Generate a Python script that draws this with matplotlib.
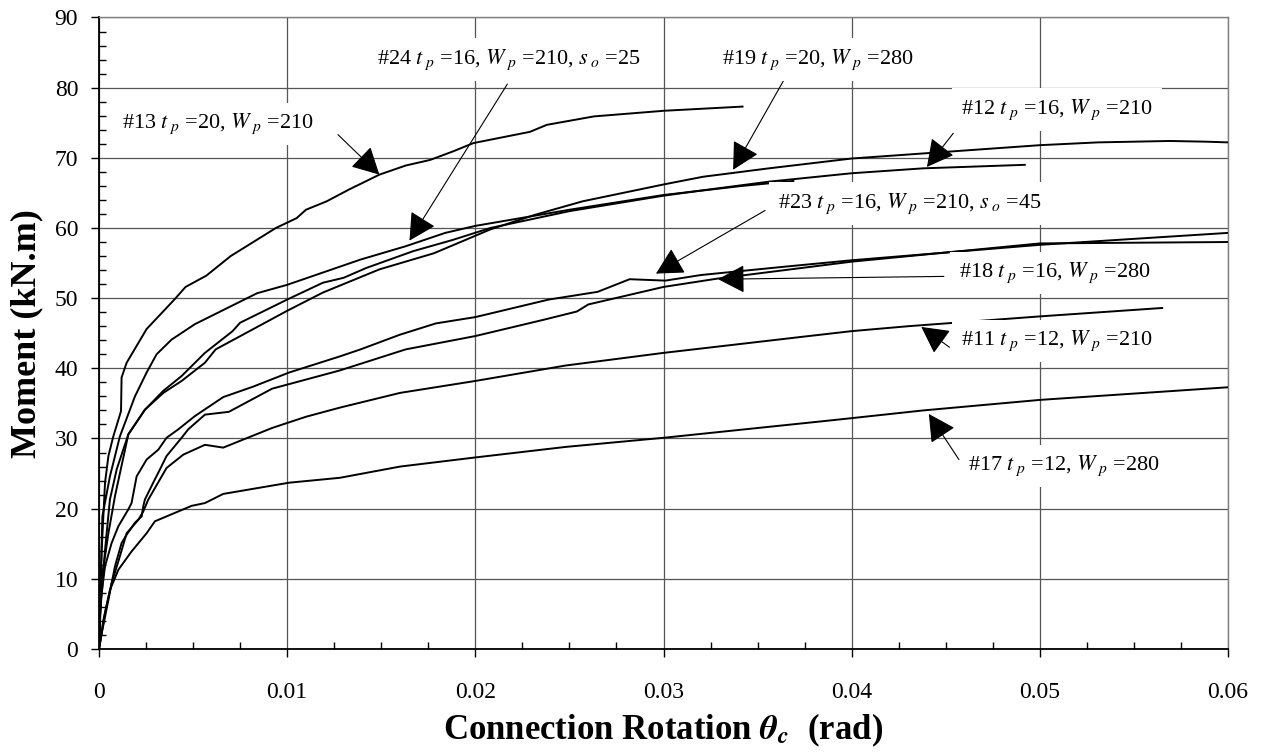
import numpy as np
import matplotlib.pyplot as plt
from matplotlib.ticker import MultipleLocator, FuncFormatter

plt.rcParams['font.family'] = ['Liberation Serif', 'DejaVu Serif']
plt.rcParams['mathtext.fontset'] = 'stix'

th13 = [0, 0.00005, 0.00014, 0.00032, 0.0005, 0.00076, 0.00117, 0.0012, 0.00147, 0.00253, 0.00404,
        0.0046, 0.0057, 0.007, 0.0094, 0.0105, 0.011, 0.0121, 0.0133, 0.0149, 0.0163, 0.0176,
        0.0188, 0.0199, 0.0229, 0.0238, 0.0263, 0.030, 0.0342]
m13 = [0, 5, 14, 23.7, 27.5, 30.3, 33.9, 38.7, 40.8, 45.6, 49.9,
       51.6, 53.2, 56.0, 60.0, 61.4, 62.6, 63.8, 65.5, 67.6, 68.9, 69.7,
       70.9, 72.1, 73.7, 74.7, 75.9, 76.7, 77.3]

th24 = [0, 0.00018, 0.00058, 0.00111, 0.00191, 0.00253, 0.00306, 0.00386, 0.0051, 0.0084, 0.01,
        0.0139, 0.0163, 0.0184, 0.02, 0.025, 0.03, 0.0342, 0.0369]
m24 = [0, 18.9, 24.6, 30.3, 36.0, 39.4, 42.0, 44.1, 46.3, 50.7, 51.9,
       55.5, 57.4, 59.3, 60.3, 62.6, 64.7, 66.0, 66.7]

th12 = [0, 0.00005, 0.00032, 0.00058, 0.00094, 0.00156, 0.00244, 0.00342, 0.00439, 0.00563, 0.0071,
        0.0075, 0.01, 0.0119, 0.013, 0.0142, 0.0167, 0.0188, 0.0208, 0.025, 0.03, 0.0319,
        0.0356, 0.04, 0.0438, 0.0492]
m12 = [0, 4.6, 14.1, 21.3, 25.6, 30.6, 34.1, 36.8, 38.9, 42.2, 45.3,
       46.5, 49.8, 52.2, 52.9, 54.3, 56.7, 58.3, 60.0, 62.4, 64.6, 65.3,
       66.6, 67.8, 68.5, 69.0]

th19 = [0, 0.00011, 0.0005, 0.00085, 0.00156, 0.00244, 0.00342, 0.00439, 0.00563, 0.0062, 0.01,
        0.0119, 0.0149, 0.0178, 0.0208, 0.0232, 0.0257, 0.03, 0.0321, 0.0356, 0.04, 0.05,
        0.0531, 0.0569, 0.0588, 0.06]
m19 = [0, 9.4, 16.5, 21.8, 30.6, 34.1, 36.5, 38.2, 40.8, 42.7, 48.2,
       50.8, 54.1, 56.4, 59.8, 61.9, 63.8, 66.2, 67.3, 68.5, 69.9, 71.8,
       72.2, 72.4, 72.3, 72.2]

th23 = [0, 0.0001, 0.00032, 0.00067, 0.00103, 0.00156, 0.00173, 0.002, 0.00253, 0.00315, 0.00359,
        0.00421, 0.0051, 0.0066, 0.0082, 0.0101, 0.0128, 0.0139, 0.016, 0.0179, 0.02, 0.0239,
        0.0265, 0.0282, 0.0301, 0.032, 0.0365, 0.04, 0.05, 0.06]
m23 = [0, 7.0, 11.8, 15.1, 17.5, 19.9, 20.8, 24.6, 27.0, 28.4, 30.1,
       31.3, 33.2, 35.9, 37.4, 39.4, 41.7, 42.7, 44.8, 46.4, 47.3, 49.8,
       50.9, 52.7, 52.5, 53.3, 54.5, 55.4, 57.6, 59.3]

th18 = [0, 0.00014, 0.0005, 0.00085, 0.0012, 0.00147, 0.00191, 0.00227, 0.00235, 0.00244, 0.00288,
        0.00324, 0.00359, 0.00439, 0.00474, 0.00563, 0.0069, 0.0092, 0.011, 0.0128, 0.0163,
        0.02, 0.0236, 0.0254, 0.026, 0.03, 0.0329, 0.04, 0.05, 0.06]
m18 = [0, 2.2, 7.0, 11.8, 15.1, 16.3, 18.0, 18.9, 20.3, 21.3, 23.7,
       25.6, 27.5, 30.1, 31.3, 33.4, 33.8, 37.1, 38.4, 39.7, 42.7,
       44.6, 46.9, 48.1, 49.1, 51.6, 52.8, 55.2, 57.8, 58.0]

th11 = [0, 0.00032, 0.00067, 0.00103, 0.00147, 0.00209, 0.00235, 0.00262, 0.00359, 0.00448, 0.00563,
        0.0066, 0.0092, 0.011, 0.0128, 0.016, 0.02, 0.0248, 0.03, 0.0374, 0.04, 0.043, 0.05, 0.0565]
m11 = [0, 5.1, 9.4, 12.5, 16.5, 18.4, 19.6, 21.3, 25.8, 27.7, 29.1,
       28.7, 31.5, 33.1, 34.4, 36.5, 38.2, 40.4, 42.2, 44.5, 45.3, 46.0, 47.4, 48.6]

th17 = [0, 0.00023, 0.00058, 0.00103, 0.00173, 0.00253, 0.00297, 0.00492, 0.00563, 0.0066, 0.0101,
        0.0128, 0.016, 0.02, 0.0248, 0.03, 0.0386, 0.04, 0.0438, 0.05, 0.06]
m17 = [0, 4.1, 8.4, 11.3, 13.9, 16.5, 18.2, 20.4, 20.8, 22.1, 23.7,
       24.4, 26.0, 27.3, 28.8, 30.1, 32.5, 32.9, 34.0, 35.5, 37.3]

curves = [(th13, m13), (th24, m24), (th12, m12), (th19, m19),
          (th23, m23), (th18, m18), (th11, m11), (th17, m17)]

# labels: text, label centre, arrow start, arrow tip
labels = [r'#13 $t_{\;p}$ =20, $W_{\;p}$ =210',
          r'#24 $t_{\;p}$ =16, $W_{\;p}$ =210, $s_{\;o}$ =25',
          r'#19 $t_{\;p}$ =20, $W_{\;p}$ =280',
          r'#12 $t_{\;p}$ =16, $W_{\;p}$ =210',
          r'#23 $t_{\;p}$ =16, $W_{\;p}$ =210, $s_{\;o}$ =45',
          r'#18 $t_{\;p}$ =16, $W_{\;p}$ =280',
          r'#11 $t_{\;p}$ =12, $W_{\;p}$ =210',
          r'#17 $t_{\;p}$ =12, $W_{\;p}$ =280']
label_xy = [(0.00632, 74.8), (0.0218, 84.0), (0.0382, 84.0), (0.0509, 76.9),
            (0.0431, 63.5), (0.0508, 53.6), (0.0509, 43.9), (0.0513, 26.1)]
arrow_from = [(0.0127, 73.3), (0.0217, 80.5), (0.0364, 81.1), (0.0454, 73.5),
              (0.0354, 62.5), (0.0449, 53.1), (0.0452, 43.0), (0.0457, 27.0)]
arrow_to = [(0.0149, 67.6), (0.0165, 58.2), (0.0337, 68.3), (0.0440, 68.7),
            (0.0296, 53.5), (0.0329, 52.7), (0.0437, 45.9), (0.0441, 33.5)]

fig = plt.figure(figsize=(12.66, 7.53), dpi=100)
ax = fig.add_axes([0.0782, 0.1381, 0.8918, 0.8387])

for th, m in curves:
    ax.plot(th, m, color='black', lw=1.4, zorder=3)

for (x0, y0), (x1, y1) in zip(arrow_from, arrow_to):
    ax.annotate('', xy=(x1, y1), xytext=(x0, y0),
                arrowprops=dict(arrowstyle='-|>,head_length=0.85,head_width=0.45',
                                mutation_scale=20, lw=0.8, color='black',
                                shrinkA=0, shrinkB=0), zorder=4)

for txt, (x, y) in zip(labels, label_xy):
    ax.text(x, y, txt, fontsize=16, ha='center', va='center', zorder=5,
            bbox=dict(facecolor='white', edgecolor='none', boxstyle='square,pad=0.4'))

ax.set_xlim(0, 0.06)
ax.set_ylim(0, 90)
ax.xaxis.set_major_locator(MultipleLocator(0.01))
ax.xaxis.set_minor_locator(MultipleLocator(0.0025))
ax.yaxis.set_major_locator(MultipleLocator(10))
ax.yaxis.set_minor_locator(MultipleLocator(2))
ax.xaxis.set_major_formatter(FuncFormatter(lambda v, p: '0' if abs(v) < 1e-9 else '%.2f' % v))

ax.grid(True, which='major', color='#555555', lw=0.9, zorder=1)
ax.tick_params(which='major', direction='out', length=6, width=1.0, labelsize=17)
ax.tick_params(axis='x', which='major', pad=18)
ax.tick_params(axis='y', which='major', pad=9)
ax.tick_params(which='minor', direction='in', length=5, width=1.0)

for s in ['left', 'bottom']:
    ax.spines[s].set_color('black')
    ax.spines[s].set_linewidth(1.3)
for s in ['top', 'right']:
    ax.spines[s].set_color('#808080')
    ax.spines[s].set_linewidth(1.0)

ax.set_xlabel(r'Connection Rotation $\mathbfit{\theta}_{\mathbfit{c}}$  (rad)', fontsize=25,
              fontweight='bold', labelpad=6)
ax.set_ylabel('Moment (kN.m)', fontsize=26, fontweight='bold', labelpad=8)

plt.savefig('out.png', dpi=100)
